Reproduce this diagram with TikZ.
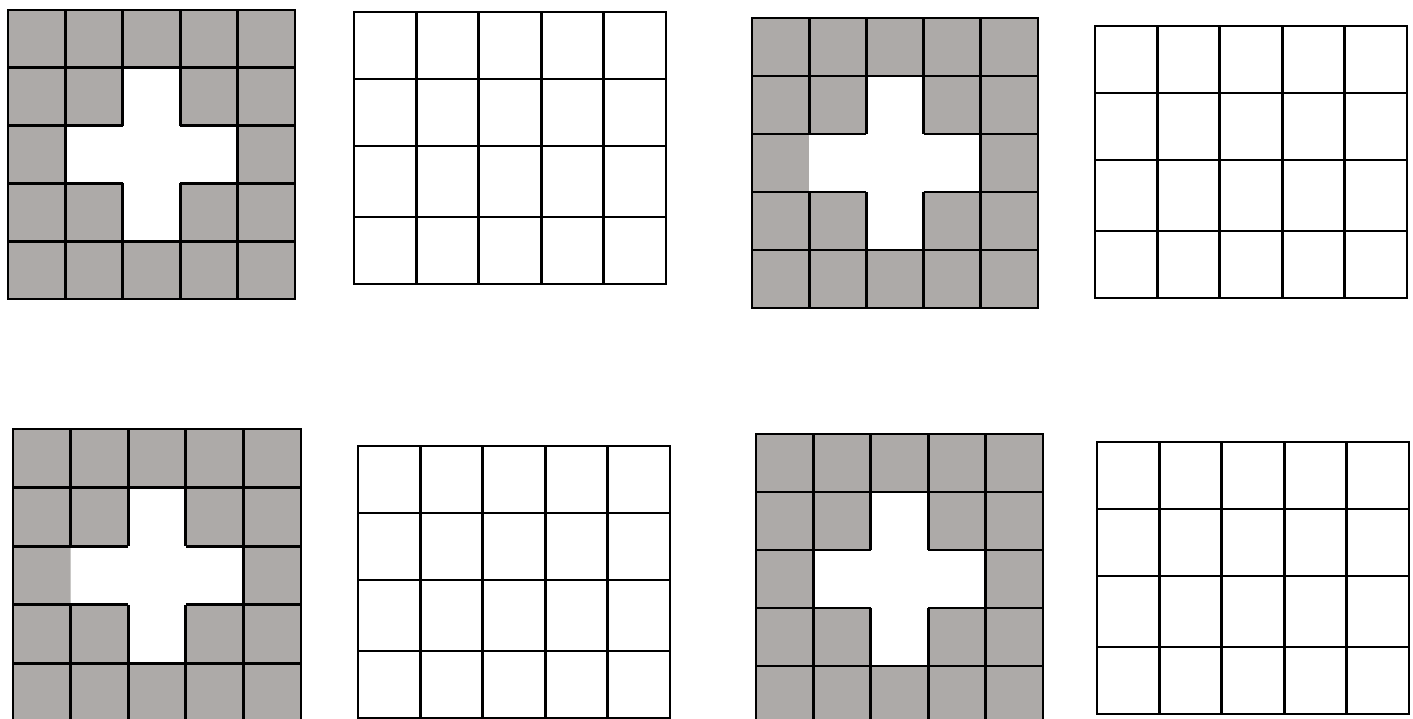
\documentclass[tikz,border=0pt]{standalone}
\usepackage{xcolor}
\usepackage{tikz}

\definecolor{cellgray}{RGB}{173,170,168}

% gray 5x5 board with a white cross: x0, y0, x1, y1, left arm edge (1 = drawn)
\newcommand{\crossgrid}[5]{%
    \begin{scope}[shift={(#1,#2)}, xscale={(#3-#1)/5}, yscale={(#4-#2)/5}]
        \fill[cellgray] (0,0) rectangle (5,5);
        \fill[white] (2,1) -- (3,1) -- (3,2) -- (4,2) -- (4,3) -- (3,3) -- (3,4)
            -- (2,4) -- (2,3) -- (1,3) -- (1,2) -- (2,2) -- cycle;
        \draw[gridline] (0,0) rectangle (5,5);
        \draw[gridline] (0,1) -- (5,1) (0,4) -- (5,4) (4,0) -- (4,5);
        \draw[gridline] (1,0) -- (1,2) (1,3) -- (1,5);
        \draw[gridline] (2,0) -- (2,2) (2,3) -- (2,5) (3,0) -- (3,2) (3,3) -- (3,5);
        \draw[gridline] (0,2) -- (2,2) (3,2) -- (5,2) (0,3) -- (2,3) (3,3) -- (5,3);
        \ifnum#5=1 \draw[gridline] (1,2) -- (1,3); \fi
    \end{scope}}

% empty 5x4 board: x0, y0, x1, y1 (third row a little taller)
\newcommand{\plaingrid}[4]{%
    \begin{scope}[shift={(#1,#2)}, xscale={(#3-#1)/5}, yscale={(#4-#2)/4}]
        \draw[gridline] (0,0) rectangle (5,4);
        \foreach \i in {1,2,3,4} \draw[gridline] (\i,0) -- (\i,4);
        \foreach \j in {0.985,1.97,3.015} \draw[gridline] (0,\j) -- (5,\j);
    \end{scope}}

\begin{document}
\begin{tikzpicture}[
        x=1pt, y=-1pt,
        gridline/.style={draw=black, line width=2.8pt}
    ]
        \useasboundingbox (0,0) rectangle (1413,719);
        \clip (0,0) rectangle (1413,719);

        % Top row
        \crossgrid{8}{10}{295}{299}{1}
        \plaingrid{354}{12}{666}{284}
        \crossgrid{752}{18}{1038}{308}{0}
        \plaingrid{1095}{26}{1407}{298}

        % Bottom row
        \crossgrid{13}{429}{301}{722}{0}
        \plaingrid{358}{446}{670}{718}
        \crossgrid{756}{434}{1043}{724}{1}
        \plaingrid{1097}{442}{1409}{714}
    \end{tikzpicture}
\end{document}
